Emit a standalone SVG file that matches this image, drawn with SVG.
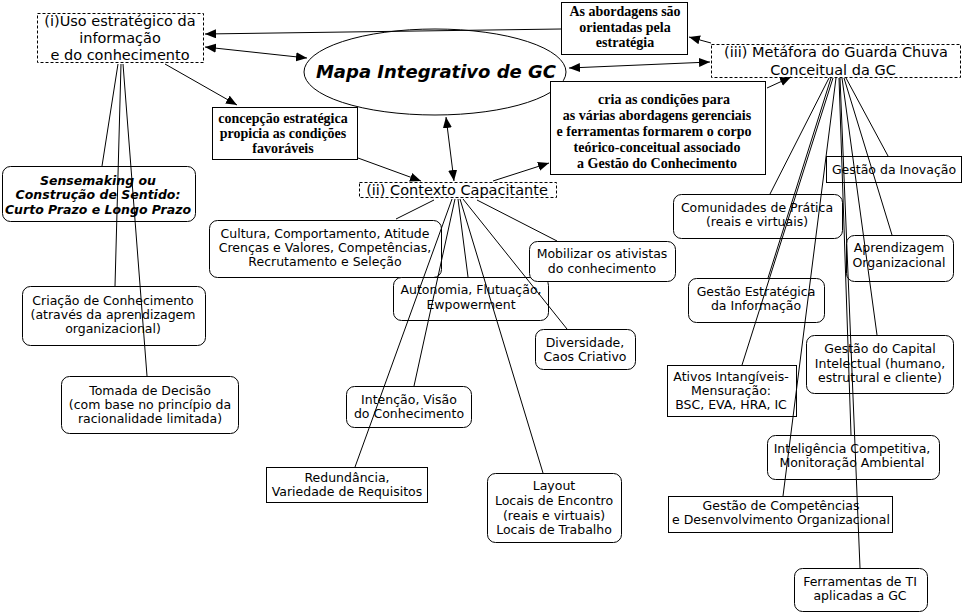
<svg xmlns="http://www.w3.org/2000/svg" width="963" height="614" viewBox="0 0 963 614">
<defs>
<marker id="ah" markerUnits="userSpaceOnUse" markerWidth="12" markerHeight="10" refX="11" refY="4.5" orient="auto-start-reverse">
<path d="M0,0 L11,4.5 L0,9 z" fill="#000"/>
</marker>
</defs>
<style>
.box{fill:#fff;stroke:#000;stroke-width:1}
.dash{fill:#fff;stroke:#000;stroke-width:1;stroke-dasharray:3 2}
text{font-family:"DejaVu Sans",Verdana,sans-serif;font-size:12.5px;text-anchor:middle;fill:#000}
.title{font-size:14.5px}
.serif{font-family:"Liberation Serif","Times New Roman",serif;font-weight:bold;font-size:14px}
.bi{font-weight:bold;font-style:italic;font-size:12.5px}
.big{font-weight:bold;font-style:italic;font-size:18px}
.ln{stroke:#000;stroke-width:1;fill:none}
.arr{stroke:#000;stroke-width:1;fill:none;marker-end:url(#ah)}
.dbl{stroke:#000;stroke-width:1;fill:none;marker-start:url(#ah);marker-end:url(#ah)}
</style>
<rect width="963" height="614" fill="#fff"/>
<g id="nodes">
<g id="uso">
<rect class="dash" x="37.5" y="13.5" width="166" height="49"/>
<text class="title" x="120" y="26">(i)Uso estratégico da</text>
<text class="title" x="120" y="43">informação</text>
<text class="title" x="120" y="60">e do conhecimento</text>
</g>
<g id="mapa">
<ellipse class="box" cx="435" cy="72" rx="131" ry="43"/>
<text class="big" x="436" y="78">Mapa Integrativo de GC</text>
</g>
<g id="abordagens">
<rect class="box" x="561.5" y="2.5" width="126" height="52"/>
<text class="serif" x="625" y="16">As abordagens são</text>
<text class="serif" x="625" y="32">orientadas pela</text>
<text class="serif" x="625" y="47">estratégia</text>
</g>
<g id="metafora">
<rect class="dash" x="711.5" y="44.5" width="249" height="33"/>
<text class="title" x="836" y="57">(iii) Metáfora do Guarda Chuva</text>
<text class="title" x="833" y="75">Conceitual da GC</text>
</g>
<g id="concepcao">
<rect class="box" x="212.5" y="107.5" width="145" height="52"/>
<text class="serif" x="283" y="123">concepção estratégica</text>
<text class="serif" x="283" y="138">propicia as condições</text>
<text class="serif" x="283" y="153">favoráveis</text>
</g>
<g id="cria">
<rect class="box" x="550.5" y="81.5" width="215" height="93"/>
<text class="serif" x="664" y="104">cria as condições para</text>
<text class="serif" x="657" y="120">as várias abordagens gerenciais</text>
<text class="serif" x="654" y="136">e ferramentas formarem o corpo</text>
<text class="serif" x="657" y="152">teórico-conceitual associado</text>
<text class="serif" x="657" y="168">a Gestão do Conhecimento</text>
</g>
<g id="contexto">
<rect class="dash" x="359.5" y="182.5" width="197" height="15"/>
<text class="title" x="457" y="195">(ii) Contexto Capacitante</text>
</g>
<g id="sensemaking">
<rect class="box" x="2.5" y="166.5" width="193" height="55" rx="8"/>
<text class="bi" x="98" y="185">Sensemaking ou</text>
<text class="bi" x="98" y="199">Construção de Sentido:</text>
<text class="bi" x="98" y="214">Curto Prazo e Longo Prazo</text>
</g>
<g id="criacao">
<rect class="box" x="22.5" y="286.5" width="183" height="59" rx="8"/>
<text x="113" y="305">Criação de Conhecimento</text>
<text x="113" y="319">(através da aprendizagem</text>
<text x="113" y="333">organizacional)</text>
</g>
<g id="tomada">
<rect class="box" x="61.5" y="376.5" width="177" height="57" rx="8"/>
<text x="150" y="395">Tomada de Decisão</text>
<text x="150" y="409">(com base no princípio da</text>
<text x="150" y="423">racionalidade limitada)</text>
</g>
<g id="cultura">
<rect class="box" x="209.5" y="220.5" width="232" height="57" rx="8"/>
<text x="325" y="238">Cultura, Comportamento, Atitude</text>
<text x="325" y="252">Crenças e Valores, Competências,</text>
<text x="325" y="266">Recrutamento e Seleção</text>
</g>
<g id="autonomia">
<rect class="box" x="393.5" y="277.5" width="155" height="43" rx="8"/>
<text x="471" y="294">Autonomia, Flutuação,</text>
<text x="471" y="309">Ewpowerment</text>
</g>
<g id="mobilizar">
<rect class="box" x="529.5" y="241.5" width="146" height="40" rx="8"/>
<text x="602" y="258">Mobilizar os ativistas</text>
<text x="602" y="273">do conhecimento</text>
</g>
<g id="diversidade">
<rect class="box" x="535.5" y="329.5" width="100" height="40" rx="8"/>
<text x="585" y="347">Diversidade,</text>
<text x="585" y="361">Caos Criativo</text>
</g>
<g id="intencao">
<rect class="box" x="346.5" y="386.5" width="125" height="41" rx="8"/>
<text x="409" y="404">Intenção, Visão</text>
<text x="409" y="418">do Conhecimento</text>
</g>
<g id="redundancia">
<rect class="box" x="266.5" y="467.5" width="161" height="35"/>
<text x="347" y="482">Redundância,</text>
<text x="347" y="496">Variedade de Requisitos</text>
</g>
<g id="layout">
<rect class="box" x="487.5" y="473.5" width="134" height="69" rx="8"/>
<text x="554" y="490">Layout</text>
<text x="554" y="505">Locais de Encontro</text>
<text x="554" y="520">(reais e virtuais)</text>
<text x="554" y="534">Locais de Trabalho</text>
</g>
<g id="inovacao">
<rect class="box" x="826.5" y="156.5" width="135" height="26"/>
<text x="894" y="174">Gestão da Inovação</text>
</g>
<g id="comunidades">
<rect class="box" x="673.5" y="194.5" width="169" height="44" rx="8"/>
<text x="757" y="212">Comunidades de Prática</text>
<text x="757" y="226">(reais e virtuais)</text>
</g>
<g id="aprendizagem">
<rect class="box" x="846.5" y="235.5" width="107" height="46" rx="8"/>
<text x="899" y="252">Aprendizagem</text>
<text x="899" y="267">Organizacional</text>
</g>
<g id="estrategica">
<rect class="box" x="688.5" y="278.5" width="136" height="44" rx="8"/>
<text x="756" y="296">Gestão Estratégica</text>
<text x="756" y="310">da Informação</text>
</g>
<g id="capital">
<rect class="box" x="806.5" y="335.5" width="147" height="58" rx="8"/>
<text x="880" y="353">Gestão do Capital</text>
<text x="880" y="368">Intelectual (humano,</text>
<text x="880" y="382">estrutural e cliente)</text>
</g>
<g id="ativos">
<rect class="box" x="667.5" y="365.5" width="129" height="51"/>
<text x="731" y="381">Ativos Intangíveis-</text>
<text x="731" y="395">Mensuração:</text>
<text x="731" y="409">BSC, EVA, HRA, IC</text>
</g>
<g id="inteligencia">
<rect class="box" x="767.5" y="435.5" width="172" height="44" rx="8"/>
<text x="852" y="453">Inteligência Competitiva,</text>
<text x="852" y="467">Monitoração Ambiental</text>
</g>
<g id="competencias">
<rect class="box" x="668.5" y="496.5" width="224" height="36"/>
<text x="781" y="510">Gestão de Competências</text>
<text x="781" y="524">e Desenvolvimento Organizacional</text>
</g>
<g id="ferramentas">
<rect class="box" x="794.5" y="568.5" width="133" height="43" rx="8"/>
<text x="860" y="586">Ferramentas de TI</text>
<text x="860" y="600">aplicadas a GC</text>
</g>
</g>
<g id="connectors">
<line class="arr" x1="561" y1="29" x2="205" y2="34"/>
<line class="dbl" x1="205" y1="47" x2="307" y2="58"/>
<line class="arr" x1="165" y1="64" x2="237" y2="105"/>
<line class="arr" x1="358" y1="158" x2="421" y2="181"/>
<line class="dbl" x1="446" y1="117" x2="454" y2="181"/>
<line class="arr" x1="493" y1="181" x2="549" y2="163"/>
<line class="dbl" x1="569" y1="68" x2="710" y2="62"/>
<line class="arr" x1="711" y1="43" x2="689" y2="37"/>
<line class="arr" x1="767" y1="88" x2="791" y2="77"/>
<line class="ln" x1="118" y1="64" x2="102" y2="166"/>
<line class="ln" x1="121" y1="64" x2="115" y2="286"/>
<line class="ln" x1="123" y1="64" x2="147" y2="376"/>
<line class="ln" x1="434" y1="200" x2="396" y2="219"/>
<line class="ln" x1="452" y1="199" x2="355" y2="467"/>
<line class="ln" x1="455" y1="199" x2="414" y2="386"/>
<line class="ln" x1="458" y1="199" x2="468" y2="277"/>
<line class="ln" x1="460" y1="199" x2="543" y2="473"/>
<line class="ln" x1="463" y1="199" x2="567" y2="329"/>
<line class="ln" x1="477" y1="200" x2="557" y2="241"/>
<line class="ln" x1="829" y1="78" x2="770" y2="194"/>
<line class="ln" x1="831" y1="78" x2="768" y2="278"/>
<line class="ln" x1="833" y1="78" x2="742" y2="365"/>
<line class="ln" x1="836" y1="78" x2="783" y2="496"/>
<line class="ln" x1="839" y1="78" x2="851" y2="435"/>
<line class="ln" x1="840" y1="78" x2="860" y2="568"/>
<line class="ln" x1="842" y1="78" x2="877" y2="335"/>
<line class="ln" x1="844" y1="78" x2="892" y2="235"/>
<line class="ln" x1="846" y1="78" x2="888" y2="156"/>
</g>
</svg>
